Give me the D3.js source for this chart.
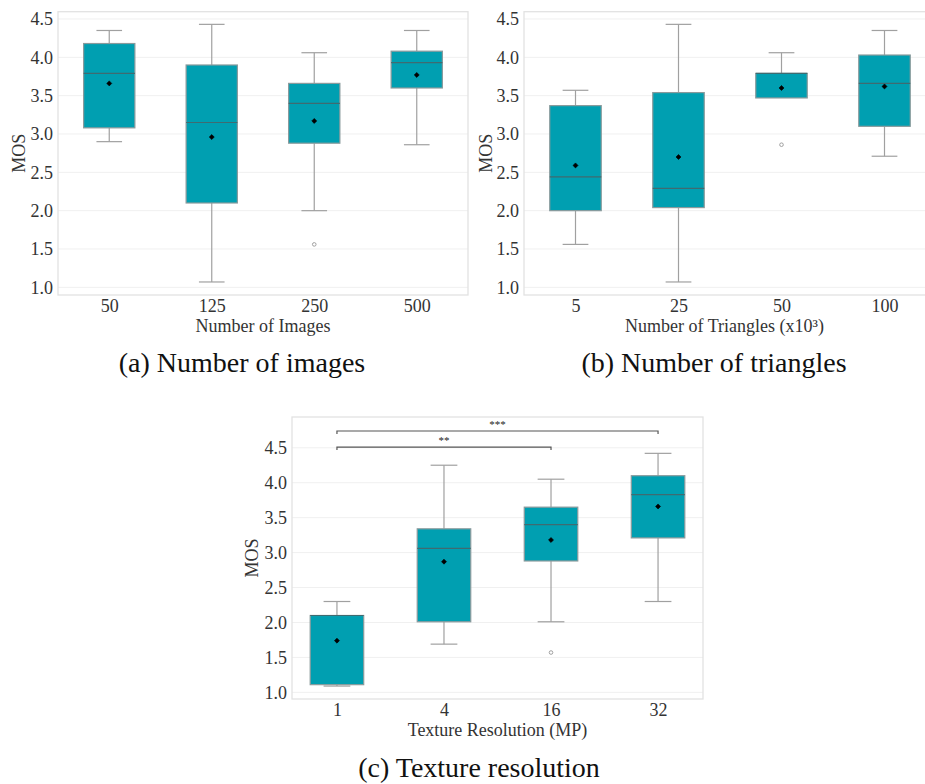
<!DOCTYPE html>
<html>
<head>
<meta charset="utf-8">
<script src="https://cdn.jsdelivr.net/npm/d3@7"></script>
<style>
  body { margin: 0; background: #fff; }
  svg { display: block; }
  text { font-family: "Liberation Serif", "Times New Roman", serif; }
</style>
</head>
<body>
<div id="chart"></div>
<script>
// ---- data ----
const yTicks = [1.0, 1.5, 2.0, 2.5, 3.0, 3.5, 4.0, 4.5];

// (a) number of images
const catsA = ["50", "125", "250", "500"];
const lowA  = [2.90, 1.07, 2.00, 2.86];
const q1A   = [3.08, 2.10, 2.88, 3.60];
const medA  = [3.79, 3.15, 3.40, 3.93];
const q3A   = [4.18, 3.90, 3.66, 4.08];
const highA = [4.35, 4.43, 4.06, 4.35];
const meanA = [3.66, 2.96, 3.17, 3.77];
const outA  = [[], [], [1.56], []];

// (b) number of triangles
const catsB = ["5", "25", "50", "100"];
const lowB  = [1.56, 1.07, 3.47, 2.71];
const q1B   = [2.00, 2.04, 3.47, 3.10];
const medB  = [2.44, 2.29, 3.79, 3.66];
const q3B   = [3.37, 3.54, 3.79, 4.03];
const highB = [3.57, 4.43, 4.06, 4.35];
const meanB = [2.59, 2.70, 3.60, 3.62];
const outB  = [[], [], [2.86], []];

// (c) texture resolution
const catsC = ["1", "4", "16", "32"];
const lowC  = [1.09, 1.69, 2.01, 2.30];
const q1C   = [1.11, 2.01, 2.88, 3.21];
const medC  = [2.10, 3.06, 3.40, 3.83];
const q3C   = [2.10, 3.34, 3.65, 4.10];
const highC = [2.30, 4.25, 4.05, 4.42];
const meanC = [1.74, 2.87, 3.18, 3.66];
const outC  = [[], [], [1.57], []];
const sigC  = [["1", "16", "**", 4.51], ["1", "32", "***", 4.74]];

const boxFill = "#009fb1";
const serif = "'Liberation Serif', 'Times New Roman', serif";

const svg = d3.select("#chart").append("svg")
    .attr("width", 925)
    .attr("height", 784);

function drawPanel(p) {
  const g = svg.append("g");
  const x = d3.scalePoint().domain(p.cats).range([p.x0, p.x1]).padding(p.pad);
  const y = d3.scaleLinear().domain(p.ydom).range([p.y1, p.y0]);
  const bw = x.step() * 0.5;

  // gridlines
  g.selectAll(".grid").data(yTicks).enter().append("line")
      .attr("x1", p.x0).attr("x2", p.x1)
      .attr("y1", d => y(d)).attr("y2", d => y(d))
      .attr("stroke", "#f0f0f0").attr("stroke-width", 1);

  // frame
  g.append("rect")
      .attr("x", p.x0).attr("y", p.y0)
      .attr("width", p.x1 - p.x0).attr("height", p.y1 - p.y0)
      .attr("fill", "none").attr("stroke", "#e2e2e2").attr("stroke-width", 1.3);

  // y axis labels
  const yAxis = d3.axisLeft(y).tickValues(yTicks).tickFormat(d3.format(".1f")).tickSize(0).tickPadding(5);
  const ya = g.append("g").attr("transform", "translate(" + p.x0 + ",0)").call(yAxis)
      .attr("font-family", serif).attr("font-size", 18);
  ya.select(".domain").remove();
  ya.selectAll("text").attr("fill", "#333").style("font-family", serif);

  // x axis labels
  const xAxis = d3.axisBottom(x).tickSize(0).tickPadding(4);
  const xa = g.append("g").attr("transform", "translate(0," + p.y1 + ")").call(xAxis)
      .attr("font-family", serif).attr("font-size", 18);
  xa.select(".domain").remove();
  xa.selectAll("text").attr("fill", "#333").style("font-family", serif);

  g.append("text")
      .attr("x", (p.x0 + Math.min(p.x1, 925)) / 2 + p.titleShift)
      .attr("y", p.y1 + 37)
      .attr("text-anchor", "middle")
      .attr("font-size", 18).attr("fill", "#333")
      .text(p.xTitle);

  g.append("text")
      .attr("transform", "translate(" + p.yTitleX + "," + (p.y0 + p.y1) / 2 + ") rotate(-90)")
      .attr("text-anchor", "middle")
      .attr("font-size", 18).attr("fill", "#333")
      .text("MOS");

  const idx = d3.range(p.cats.length);

  // whiskers
  idx.forEach(i => {
    const cx = x(p.cats[i]);
    [[p.q3[i], p.high[i]], [p.q1[i], p.low[i]]].forEach(([a, b]) => {
      if (Math.abs(a - b) < 1e-6) return;
      g.append("line").attr("x1", cx).attr("x2", cx)
          .attr("y1", y(a)).attr("y2", y(b))
          .attr("stroke", "#a0a0a0").attr("stroke-width", 1.2);
      g.append("line").attr("x1", cx - bw / 4).attr("x2", cx + bw / 4)
          .attr("y1", y(b)).attr("y2", y(b))
          .attr("stroke", "#a0a0a0").attr("stroke-width", 1.2);
    });
  });

  // boxes
  g.selectAll(".box").data(idx).enter().append("rect")
      .attr("x", i => x(p.cats[i]) - bw / 2)
      .attr("y", i => y(p.q3[i]))
      .attr("width", bw)
      .attr("height", i => y(p.q1[i]) - y(p.q3[i]))
      .attr("fill", boxFill)
      .attr("stroke", "#8a9a9c").attr("stroke-width", 1.2);

  // medians
  g.selectAll(".med").data(idx).enter().append("line")
      .attr("x1", i => x(p.cats[i]) - bw / 2)
      .attr("x2", i => x(p.cats[i]) + bw / 2)
      .attr("y1", i => y(p.med[i])).attr("y2", i => y(p.med[i]))
      .attr("stroke", "#3f6b71").attr("stroke-width", 1.2);

  // means
  const diamond = d3.symbol().type(d3.symbolDiamond2).size(16);
  g.selectAll(".mean").data(idx).enter().append("path")
      .attr("d", diamond)
      .attr("transform", i => "translate(" + x(p.cats[i]) + "," + y(p.mean[i]) + ")")
      .attr("fill", "#000").attr("stroke", "#000").attr("stroke-width", 0.6);

  // outliers
  idx.forEach(i => {
    p.out[i].forEach(v => {
      g.append("circle").attr("cx", x(p.cats[i])).attr("cy", y(v)).attr("r", 1.8)
          .attr("fill", "#fff").attr("stroke", "#a0a0a0").attr("stroke-width", 1);
    });
  });

  // significance brackets
  (p.sig || []).forEach(([a, b, label, v]) => {
    const xa1 = x(a), xb1 = x(b), yy = y(v);
    g.append("path")
        .attr("d", "M" + xa1 + "," + (yy + 3) + "V" + yy + "H" + xb1 + "V" + (yy + 3))
        .attr("fill", "none").attr("stroke", "#555").attr("stroke-width", 1.2);
    g.append("text")
        .attr("x", (xa1 + xb1) / 2).attr("y", yy - 3)
        .attr("text-anchor", "middle").attr("font-size", 11).attr("fill", "#222")
        .text(label);
  });

  // caption
  svg.append("text")
      .attr("x", p.capX).attr("y", p.capY)
      .attr("text-anchor", "middle")
      .attr("font-size", 28).attr("fill", "#111")
      .text(p.caption);
}

drawPanel({
  cats: catsA, low: lowA, q1: q1A, med: medA, q3: q3A, high: highA, mean: meanA, out: outA,
  x0: 58, x1: 468, y0: 11.7, y1: 295, pad: 0.5, ydom: [0.9, 4.595],
  xTitle: "Number of Images", titleShift: 0, yTitleX: 25,
  caption: "(a) Number of images", capX: 242, capY: 372
});

drawPanel({
  cats: catsB, low: lowB, q1: q1B, med: medB, q3: q3B, high: highB, mean: meanB, out: outB,
  x0: 524, x1: 936, y0: 11.7, y1: 295, pad: 0.5, ydom: [0.9, 4.595],
  xTitle: "Number of Triangles (x10\u00b3)", titleShift: 0, yTitleX: 492,
  caption: "(b) Number of triangles", capX: 714, capY: 372
});

drawPanel({
  cats: catsC, low: lowC, q1: q1C, med: medC, q3: q3C, high: highC, mean: meanC, out: outC,
  x0: 292, x1: 703, y0: 417, y1: 699, pad: 0.42, ydom: [0.905, 4.94],
  xTitle: "Texture Resolution (MP)", titleShift: 0, yTitleX: 258, sig: sigC,
  caption: "(c) Texture resolution", capX: 479, capY: 777
});
</script>
</body>
</html>
